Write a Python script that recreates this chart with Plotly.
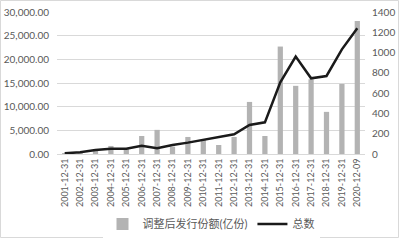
import plotly.graph_objects as go

dates = ["2001-12-31", "2002-12-31", "2003-12-31", "2004-12-31", "2005-12-31",
         "2006-12-31", "2007-12-31", "2008-12-31", "2009-12-31", "2010-12-31",
         "2011-12-31", "2012-12-31", "2013-12-31", "2014-12-31", "2015-12-31",
         "2016-12-31", "2017-12-31", "2018-12-31", "2019-12-31", "2020-12-09"]
shares = [50, 150, 1000, 1700, 1050, 3800, 5100, 1550, 3600, 2950,
          1900, 3600, 11000, 3800, 22700, 14400, 15800, 8900, 14800, 28100]
totals = [7, 17, 40, 52, 52, 82, 56, 89, 112, 138,
          171, 194, 286, 312, 706, 960, 746, 769, 1032, 1240]

bar_name = "调整后发行份额(亿份)"
line_name = "总数"

font_fam = "Lato, 'Noto Sans CJK SC', sans-serif"
grey = "#595959"

L, R, T, B = 57, 35, 12, 86
W, H = 400, 240
pw, ph = W - L - R, H - T - B

fig = go.Figure()
fig.add_trace(go.Bar(x=dates, y=shares, name=bar_name, marker_color="#b3b3b3",
                     marker_line_width=0))
fig.add_trace(go.Scatter(x=dates, y=totals, name=line_name, yaxis="y2",
                         mode="lines", line=dict(color="#1a1a1a", width=2.5)))

fig.update_layout(
    width=W, height=H,
    margin=dict(l=L, r=R, t=T, b=B, autoexpand=False),
    paper_bgcolor="white", plot_bgcolor="white",
    font=dict(family=font_fam, size=9, color=grey),
    bargap=0.66,
    showlegend=True,
    legend=dict(orientation="h", x=0.5, xanchor="center", y=-(224 - (H - B)) / ph,
                yanchor="middle", font=dict(size=11, color=grey), itemwidth=30,
                traceorder="normal"),
    xaxis=dict(type="category", tickangle=-90, tickfont=dict(size=9, color=grey),
               showgrid=False, showline=True, linecolor="#d9d9d9", ticks="",
               automargin=False),
    yaxis=dict(range=[0, 30000], tickvals=[0, 5000, 10000, 15000, 20000, 25000, 30000],
               tickformat=",.2f", showgrid=True, gridcolor="#d9d9d9", gridwidth=1,
               zeroline=False, ticks="", tickfont=dict(size=10, color=grey),
               ticklabelstandoff=7, automargin=False),
    yaxis2=dict(range=[0, 1400], tickvals=[0, 200, 400, 600, 800, 1000, 1200, 1400],
                overlaying="y", side="right", showgrid=False, zeroline=False,
                ticks="", tickfont=dict(size=10, color=grey), ticklabelstandoff=6,
                automargin=False),
    shapes=[dict(type="rect", xref="paper", yref="paper",
                 x0=(0.5 - L) / pw, x1=(W - 1.5 - L) / pw,
                 y0=-(B - 2.5) / ph, y1=(T - 0.5) / ph + 1,
                 line=dict(color="#d9d9d9", width=1), fillcolor="rgba(0,0,0,0)",
                 layer="above")],
)

fig.write_html("out.html")
